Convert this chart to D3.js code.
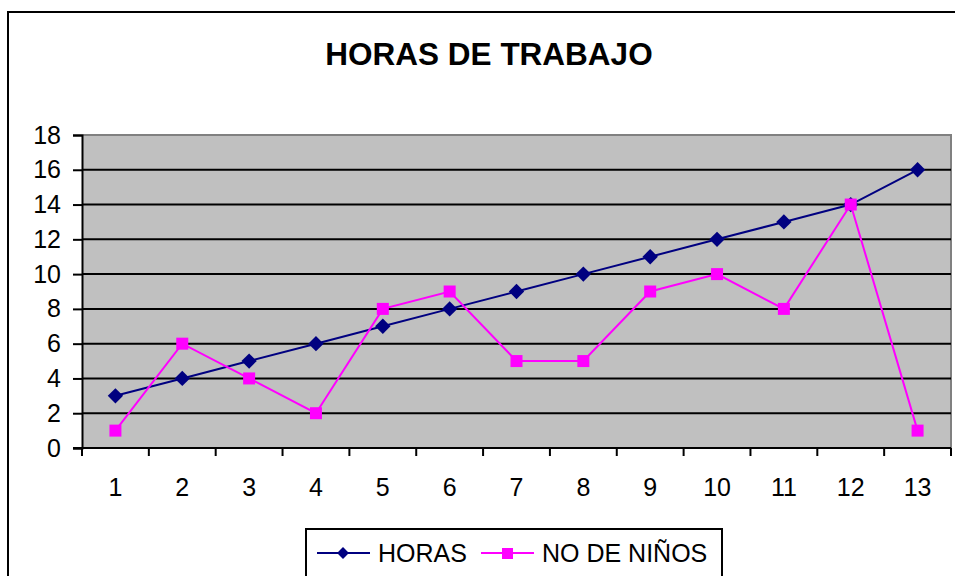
<!DOCTYPE html>
<html>
<head>
<meta charset="utf-8">
<script src="https://cdn.jsdelivr.net/npm/d3@7"></script>
<style>
  body { margin: 0; background: #fff; }
  text { font-family: Arial, "Liberation Sans", sans-serif; fill: #000; }
</style>
</head>
<body>
<svg width="955" height="576"></svg>
<script>
(function (d3) {
  'use strict';

  const categories = ['1','2','3','4','5','6','7','8','9','10','11','12','13'];
  const horas = [3,4,5,6,7,8,9,10,11,12,13,14,16];
  const ninos = [1,6,4,2,8,9,5,5,9,10,8,14,1];
  const yTicks = [0,2,4,6,8,10,12,14,16,18];
  const seriesNames = ['HORAS','NO DE NIÑOS'];

  const svg = d3.select('svg');

  // marco exterior
  svg.append('rect')
    .attr('x',8).attr('y',12)
    .attr('width',980).attr('height',600)
    .attr('fill','#fff')
    .attr('stroke','#000')
    .attr('stroke-width',2);

  svg.append('text')
    .attr('x',489).attr('y',65)
    .attr('text-anchor','middle')
    .style('font-size','31.5px')
    .style('font-weight','bold')
    .text('HORAS DE TRABAJO');

  const left=82, right=951, top=135, bottom=448;

  const x=d3.scaleBand().domain(categories).range([left,right]);
  const y=d3.scaleLinear().domain([0,18]).range([bottom,top]);

  // area del grafico
  svg.append('rect')
    .attr('x',left).attr('y',top)
    .attr('width',right-left).attr('height',bottom-top)
    .attr('fill','#c0c0c0');

  svg.append('path')
    .attr('d',`M${left},${top}H${right}V${bottom}`)
    .attr('fill','none')
    .attr('stroke','#808080')
    .attr('stroke-width',2);

  // lineas de division
  svg.append('g')
    .selectAll('line')
    .data(yTicks.filter(d=>d>0 && d<18))
    .join('line')
      .attr('x1',left).attr('x2',right)
      .attr('y1',d=>y(d)).attr('y2',d=>y(d))
      .attr('stroke','#000')
      .attr('stroke-width',2);

  const yAxis=svg.append('g')
    .attr('transform',`translate(${left},0)`)
    .call(d3.axisLeft(y).tickValues(yTicks).tickSize(9).tickPadding(12));
  yAxis.select('.domain').attr('stroke-width',2);
  yAxis.selectAll('.tick line').attr('stroke-width',2);
  yAxis.selectAll('text').style('font-size','25px').attr('fill','#000');

  // eje x: marcas entre categorias
  const xAxis=svg.append('g');
  xAxis.append('line')
    .attr('x1',left-9).attr('x2',right)
    .attr('y1',bottom).attr('y2',bottom)
    .attr('stroke','#000').attr('stroke-width',2);
  xAxis.selectAll('line.tk')
    .data(categories.concat(['end']))
    .join('line')
      .attr('class','tk')
      .attr('x1',(d,i)=>left+i*x.bandwidth())
      .attr('x2',(d,i)=>left+i*x.bandwidth())
      .attr('y1',bottom).attr('y2',bottom+8)
      .attr('stroke','#000').attr('stroke-width',2);
  xAxis.selectAll('text')
    .data(categories)
    .join('text')
      .attr('x',d=>x(d)+x.bandwidth()/2)
      .attr('y',496)
      .attr('text-anchor','middle')
      .style('font-size','25px')
      .text(d=>d);

  const cx=d=>x(d)+x.bandwidth()/2;
  const line=d3.line().x((d,i)=>cx(categories[i])).y(d=>y(d));

  svg.append('path')
    .datum(horas)
    .attr('d',line)
    .attr('fill','none')
    .attr('stroke','#000080')
    .attr('stroke-width',2);

  svg.append('g')
    .selectAll('path')
    .data(horas)
    .join('path')
      .attr('d',d3.symbol().type(d3.symbolDiamond2).size(150))
      .attr('transform',(d,i)=>`translate(${cx(categories[i])},${y(d)})`)
      .attr('fill','#000080');

  svg.append('path')
    .datum(ninos)
    .attr('d',line)
    .attr('fill','none')
    .attr('stroke','#ff00ff')
    .attr('stroke-width',2);

  svg.append('g')
    .selectAll('rect')
    .data(ninos)
    .join('rect')
      .attr('x',(d,i)=>cx(categories[i])-6)
      .attr('y',d=>y(d)-6)
      .attr('width',12).attr('height',12)
      .attr('fill','#ff00ff');

  // leyenda
  const lg=svg.append('g');
  lg.append('rect')
    .attr('x',306).attr('y',529)
    .attr('width',416).attr('height',80)
    .attr('fill','#fff')
    .attr('stroke','#000')
    .attr('stroke-width',2);

  const legendColors=['#000080','#ff00ff'];
  const legendX=[317,481];
  seriesNames.forEach((name,i)=>{
    const g=lg.append('g').attr('transform',`translate(${legendX[i]},553)`);
    g.append('line')
      .attr('x1',0).attr('x2',53)
      .attr('stroke',legendColors[i]).attr('stroke-width',2);
    if(i===0){
      g.append('path')
        .attr('d',d3.symbol().type(d3.symbolDiamond2).size(90))
        .attr('transform','translate(26,0)')
        .attr('fill',legendColors[i]);
    } else {
      g.append('rect')
        .attr('x',21).attr('y',-5)
        .attr('width',11).attr('height',11)
        .attr('fill',legendColors[i]);
    }
    g.append('text')
      .attr('x',61).attr('y',9)
      .style('font-size','25px')
      .text(name);
  });

}(d3));
</script>
</body>
</html>
